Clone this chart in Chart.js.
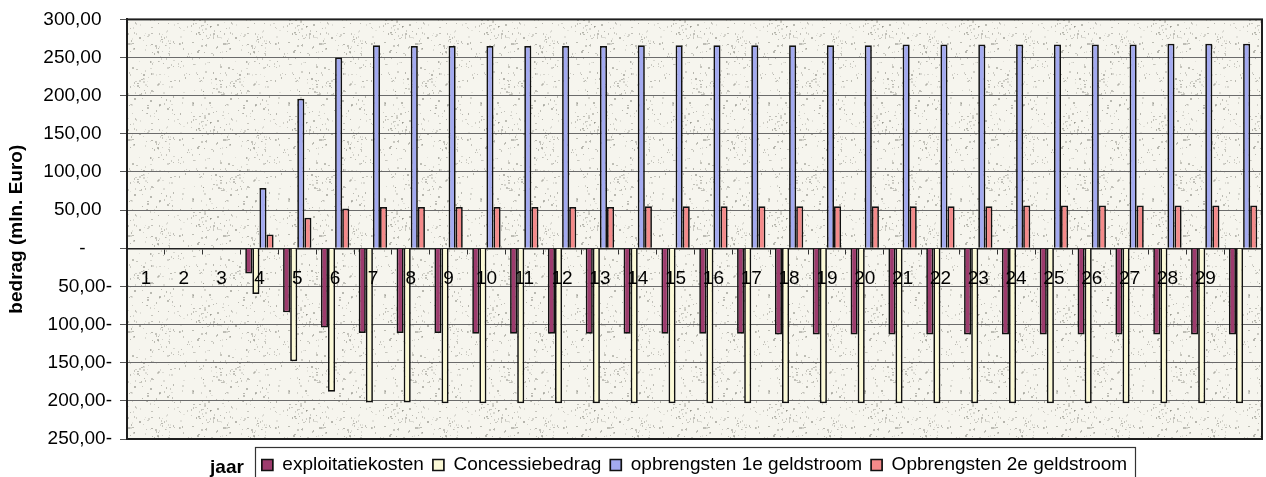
<!DOCTYPE html>
<html>
<head>
<meta charset="utf-8">
<title>Kasstromen per jaar</title>
<script src="https://cdn.jsdelivr.net/npm/chart.js@4.4.1/dist/chart.umd.min.js"></script>
<style>
  html, body { margin: 0; padding: 0; background: #ffffff; }
  #wrap { width: 1266px; height: 477px; }
</style>
</head>
<body>
<div id="wrap"><canvas id="c" width="1266" height="477"></canvas></div>
<script>
// Jaren (categorieën) en de labels die onder de nullijn staan
const jaren = ['1','2','3','4','5','6','7','8','9','10','11','12','13','14','15','16','17','18','19','20','21','22','23','24','25','26','27','28','29','30'];
const jaarLabels = ['1','2','3','4','5','6','7','8','9','10','11','12','13','14','15','16','17','18','19','20','21','22','23','24','25','26','27','28','29',''];

// Bedragen in mln. Euro per jaar
const exploitatiekosten = [null, null, null, -33, -84, -104, -111, -111, -111, -112, -112, -112, -112, -112, -112, -112, -112, -113, -113, -113, -113, -113, -113, -113, -113, -113, -113, -113, -113, -113];
const concessiebedrag   = [null, null, null, -60, -148, -188, -202, -202, -203, -203, -203, -203, -203, -203, -203, -203, -203, -203, -203, -203, -203, -203, -203, -203, -203, -203, -203, -203, -203, -203];
const opbrengsten1e     = [null, null, null, 79, 196, 250, 266, 265, 265, 265, 265, 265, 265, 266, 266, 266, 266, 266, 266, 266, 267, 267, 267, 267, 267, 267, 267, 268, 268, 268];
const opbrengsten2e     = [null, null, null, 18, 40, 52, 54, 54, 54, 54, 54, 54, 54, 55, 55, 55, 55, 55, 55, 55, 55, 55, 55, 56, 56, 56, 56, 56, 56, 56];

// As-instellingen
const yMin = -250, yMax = 300, yStap = 50;

const FONT = "'Liberation Sans', Arial, Helvetica, sans-serif";

// Nederlandse boekhoudnotatie: 250,00 / 50,00- / -
function bedragLabel(v) {
  if (v === 0) return '-     ';
  const s = Math.abs(v).toFixed(2).replace('.', ',');
  return v < 0 ? s + '-' : s + '  ';
}

// Korrelige vulling voor het tekengebied
function maakKorrel(ctx) {
  const n = 96;
  const c = document.createElement('canvas');
  c.width = n; c.height = n;
  const g = c.getContext('2d');
  g.fillStyle = '#f6f5ee';
  g.fillRect(0, 0, n, n);
  let s = 20240611;
  const h = () => { s = (Math.imul(s, 1664525) + 1013904223) >>> 0; return s / 4294967296; };
  for (let i = 0; i < 300; i++) {
    const x = Math.floor(h() * n), y = Math.floor(h() * n);
    const a = 0.12 + h() * 0.3;
    g.fillStyle = 'rgba(95,95,85,' + a.toFixed(2) + ')';
    g.fillRect(x, y, h() < 0.35 ? 2 : 1, h() < 0.5 ? 2 : 1);
  }
  return ctx.createPattern(c, 'repeat');
}

const kader = {
  id: 'kader',
  beforeDraw(chart) {
    const { ctx, chartArea: a } = chart;
    ctx.save();
    ctx.fillStyle = maakKorrel(ctx);
    ctx.fillRect(a.left, a.top, a.right - a.left, a.bottom - a.top);
    ctx.restore();
  },
  afterDraw(chart) {
    const { ctx, chartArea: a } = chart;
    ctx.save();
    ctx.strokeStyle = '#1e1e1e';
    ctx.lineWidth = 2;
    ctx.strokeRect(a.left, a.top, a.right - a.left, a.bottom - a.top);

    // kader om de legenda
    const hb = chart.legend.legendHitBoxes;
    if (hb && hb.length) {
      const first = hb[0], last = hb[hb.length - 1];
      const lx = first.left - 7;
      const ty = first.top - 8.5;
      const rx = last.left + last.width + 8;
      ctx.lineWidth = 1.2;
      ctx.strokeStyle = '#333';
      ctx.strokeRect(Math.round(lx) + 0.5, Math.round(ty) + 0.5, Math.round(rx - lx), 40);

      ctx.fillStyle = '#000';
      ctx.font = 'bold 19px ' + FONT;
      ctx.textAlign = 'right';
      ctx.textBaseline = 'middle';
      ctx.fillText('jaar', lx - 11, first.top + 12);
    }
    ctx.restore();
  }
};

const rand = '#111111';

new Chart(document.getElementById('c'), {
  type: 'bar',
  data: {
    labels: jaren,
    datasets: [
      { label: 'exploitatiekosten', data: exploitatiekosten, backgroundColor: '#9d3b6d', borderColor: rand, borderWidth: 1.7 },
      { label: 'Concessiebedrag', data: concessiebedrag, backgroundColor: '#fbf9d6', borderColor: rand, borderWidth: 1.7 },
      { label: 'opbrengsten 1e geldstroom', data: opbrengsten1e, backgroundColor: '#a3aaf0', borderColor: rand, borderWidth: 1.7 },
      { label: 'Opbrengsten 2e geldstroom', data: opbrengsten2e, backgroundColor: '#f48a8a', borderColor: rand, borderWidth: 1.7 }
    ]
  },
  options: {
    responsive: false,
    animation: false,
    devicePixelRatio: 1,
    datasets: { bar: { categoryPercentage: 0.75, barPercentage: 1.0 } },
    layout: { padding: { top: 19, right: 4, bottom: -7.5, left: 0 } },
    plugins: {
      tooltip: { enabled: false },
      legend: {
        position: 'bottom',
        fullSize: false,
        align: 'center',
        title: { display: true, text: ' ', font: { size: 1 }, padding: { top: 6.3, bottom: 0 } },
        labels: {
          font: { family: FONT, size: 19 },
          color: '#000',
          boxWidth: 11,
          boxHeight: 11,
          padding: 9
        }
      }
    },
    scales: {
      x: {
        position: { y: 0 },
        grid: { drawOnChartArea: false, drawTicks: true, tickLength: 5, color: '#333', lineWidth: 1 },
        border: { display: true, color: '#222', width: 1.5 },
        ticks: {
          z: 1,
          font: { family: FONT, size: 19 },
          color: '#000',
          padding: 14,
          maxRotation: 0,
          autoSkip: false,
          callback: (v, i) => jaarLabels[i]
        }
      },
      y: {
        min: yMin,
        max: yMax,
        afterFit(scale) { scale.width = 127; },
        grid: { color: '#6b6b6b', lineWidth: 1, tickLength: 7, tickColor: '#555' },
        border: { display: true, color: '#1e1e1e', width: 2 },
        ticks: {
          stepSize: yStap,
          font: { family: FONT, size: 19 },
          color: '#000',
          padding: 8,
          callback: (v) => bedragLabel(v)
        },
        title: {
          display: true,
          text: 'bedrag (mln. Euro)',
          font: { family: FONT, size: 19, weight: 'bold' },
          color: '#000',
          padding: { top: 5, bottom: 4 }
        }
      }
    }
  },
  plugins: [kader]
});
</script>
</body>
</html>
